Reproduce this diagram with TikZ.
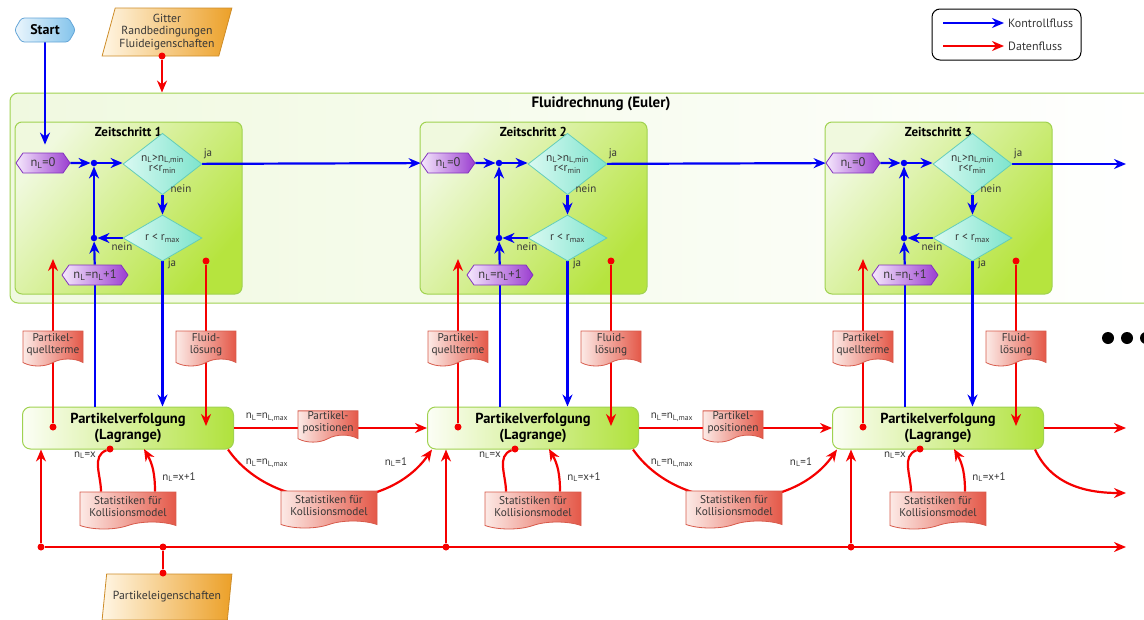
\documentclass[tikz,border=0pt]{standalone}
\usepackage{fontspec}
\setmainfont{PT Sans}
\usetikzlibrary{arrows.meta,shapes.geometric,shapes.symbols,calc}
\definecolor{cblue}{RGB}{0,0,245}
\definecolor{cred}{RGB}{245,0,0}
\definecolor{txt}{RGB}{55,55,55}
\definecolor{zsL}{RGB}{240,249,222}
\definecolor{zsR}{RGB}{182,228,62}
\definecolor{zsB}{RGB}{160,210,80}
\definecolor{bigL}{RGB}{240,249,224}
\definecolor{bigM}{RGB}{216,241,172}
\definecolor{pvL}{RGB}{252,254,246}
\definecolor{pvR}{RGB}{176,226,60}
\definecolor{docL}{RGB}{252,234,230}
\definecolor{docR}{RGB}{228,88,72}
\definecolor{docB}{RGB}{215,90,75}
\definecolor{hexL}{RGB}{245,232,252}
\definecolor{hexR}{RGB}{155,62,208}
\definecolor{hexB}{RGB}{130,50,190}
\definecolor{diaL}{RGB}{218,249,242}
\definecolor{diaR}{RGB}{125,228,205}
\definecolor{diaB}{RGB}{100,205,185}
\definecolor{parL}{RGB}{255,246,228}
\definecolor{parR}{RGB}{236,160,40}
\definecolor{parB}{RGB}{205,140,40}
\definecolor{stL}{RGB}{236,246,253}
\definecolor{stR}{RGB}{130,195,235}
\definecolor{stB}{RGB}{100,165,215}
\newcommand{\nLs}{n\textsubscript{L}}
\pgfdeclarelayer{bg}\pgfdeclarelayer{fg}
\pgfsetlayers{bg,main,fg}
\tikzset{
  tip/.style={-{Stealth[length=12pt,width=10pt]}},
  ctrlline/.style={draw=cblue, line width=2.2pt},
  ctrl/.style={ctrlline, tip},
  datline/.style={draw=cred, line width=2.2pt},
  dat/.style={datline, tip},
  lbl/.style={font=\fontsize{11}{12}\selectfont, text=txt, inner sep=1pt},
  dotb/.style={circle, fill=cblue, inner sep=0pt, minimum size=6.5pt},
  dotr/.style={circle, fill=cred, inner sep=0pt, minimum size=7pt},
  bigdot/.style={circle, fill=black, inner sep=0pt, minimum size=12pt},
  bigbox/.style={draw=zsB, line width=1pt, rounded corners=8pt, left color=bigL, middle color=bigM, right color=white, minimum width=1150pt, minimum height=210pt, inner sep=0pt},
  zsbox/.style={draw=zsB, line width=1pt, rounded corners=7pt, left color=zsL, right color=zsR, shading angle=50, minimum width=227pt, minimum height=172pt, inner sep=0pt},
  ztitle/.style={font=\bfseries\fontsize{13}{15}\selectfont, text=black},
  pvbox/.style={draw=zsB, line width=1pt, rounded corners=8pt, left color=pvL, right color=pvR, minimum width=211pt, minimum height=42pt, inner sep=0pt, align=center, font=\bfseries\fontsize{14.5}{16}\selectfont, text=black},
  hexn/.style={signal, signal to=west and east, signal pointer angle=110, draw=hexB, line width=0.8pt, left color=hexL, right color=hexR, minimum height=20pt, inner sep=1pt, text=txt, font=\fontsize{12.5}{13}\selectfont},
  dia/.style={diamond, draw=diaB, line width=0.8pt, left color=diaL, right color=diaR, minimum width=79pt, minimum height=46pt, inner sep=0pt, align=center, font=\fontsize{11.5}{11.5}\selectfont, text=txt},
  doc/.style={tape, tape bend top=none, tape bend height=7pt, draw=docB, line width=0.8pt, left color=docL, right color=docR, minimum width=60pt, minimum height=35pt, inner sep=1pt, align=center, font=\fontsize{11.3}{12}\selectfont, text=txt},
  para/.style={trapezium, trapezium left angle=72, trapezium right angle=108, trapezium stretches=true, draw=parB, line width=0.8pt, left color=parL, right color=parR, inner sep=1pt, align=center, font=\fontsize{11.7}{12.5}\selectfont, text=txt},
}
\begin{document}
\begin{tikzpicture}[x=1pt,y=1pt]
\useasboundingbox (0,0) rectangle (1144,-619);
\clip (0,0) rectangle (1144,-619);

% ---------------- background layer
\begin{pgfonlayer}{bg}
\node[bigbox] (euler) at (585,-198) {};
\foreach \k in {1,2,3} {
  \pgfmathsetmacro\dx{405*(\k-1)}
  \node[zsbox] (zs\k) at (\dx+128.5,-208) {};
  \node[pvbox] (pv\k) at (\dx+128,-428) {Partikelverfolgung\\(Lagrange)};
}
\end{pgfonlayer}

% ---------------- foreground nodes
\begin{pgfonlayer}{fg}
\node[font=\bfseries\fontsize{15}{17}\selectfont, text=black] (eulert) at (601,-104) {Fluidrechnung (Euler)};
\node[signal, signal to=west and east, signal pointer angle=120, rounded corners=3pt, draw=stB, line width=0.8pt, left color=stL, right color=stR, minimum width=61pt, minimum height=24pt, inner sep=1pt, font=\bfseries\fontsize{14}{15}\selectfont, text=black] (start) at (45,-30) {Start};
\node[para, minimum width=130pt, minimum height=48pt] (gitter) at (167,-32) {Gitter\\Randbedingungen\\Fluideigenschaften};
\node[dotr] (gd) at (162,-56) {};
\node[para, minimum width=130pt, minimum height=46pt] (peig) at (167,-597) {Partikeleigenschaften};
\node[dotr] (ped) at (163,-573) {};
\node[dotr] (bm) at (163,-547) {};
\foreach \k in {1,2,3} {
  \pgfmathsetmacro\dx{405*(\k-1)}
  \node[ztitle] (zst\k) at (\dx+128.5,-132) {Zeitschritt \k};
  \node[hexn, minimum width=54pt] (nz\k) at (\dx+43,-163) {\nLs=0};
  \node[dotb] (da\k) at (\dx+94,-163) {};
  \node[dia] (di\k) at (\dx+162.5,-164) {\nLs>n\textsubscript{L,min}\\[-1pt]r<r\textsubscript{min}};
  \node[dia] (dj\k) at (\dx+162.5,-238) {r < r\textsubscript{max}};
  \node[dotb] (db\k) at (\dx+94,-238) {};
  \node[hexn, minimum width=66pt] (ni\k) at (\dx+95,-275) {\nLs=\nLs+1};
  \node[lbl] (ja\k) at (\dx+208,-154) {ja};
  \node[lbl] (ne\k) at (\dx+181,-189) {nein};
  \node[lbl] (nf\k) at (\dx+122,-247) {nein};
  \node[lbl] (jb\k) at (\dx+172,-264) {ja};
  \node[doc] (pq\k) at (\dx+53,-345) {Partikel-\\quellterme};
  \node[doc] (fl\k) at (\dx+206,-345) {Fluid-\\lösung};
  \node[doc, minimum width=96pt, minimum height=37pt] (sk\k) at (\dx+128,-507) {Statistiken für\\Kollisionsmodel};
  \node[lbl] (lx\k) at (\dx+85,-455) {\nLs=x};
  \node[lbl] (ly\k) at (\dx+179,-477) {\nLs=x+1};
  \node[dotr] (pvd\k) at (\dx+53,-427) {};
  \node[dotr] (pvs\k) at (\dx+110,-449) {};
  \node[dotr] (fd\k) at (\dx+206,-261) {};
  \node[dotr] (bd\k) at (\dx+41,-547) {};
  \coordinate (pqt\k) at (\dx+53,-259);
  \coordinate (ft\k) at (\dx+206,-426);
  \coordinate (lt\k) at (\dx+144,-449);
}
\foreach \k in {1,2} {
  \pgfmathsetmacro\dx{405*(\k-1)}
  \node[doc, minimum height=31pt] (pp\k) at (\dx+328,-423) {Partikel-\\positionen};
  \node[doc, minimum width=96pt, minimum height=37pt] (sm\k) at (\dx+329,-506) {Statistiken für\\Kollisionsmodel};
  \node[lbl] (lm\k) at (\dx+267,-417) {\nLs=n\textsubscript{L,max}};
  \node[lbl] (ln\k) at (\dx+267,-463) {\nLs=n\textsubscript{L,max}};
  \node[lbl] (lo\k) at (\dx+396,-462) {\nLs=1};
}
\node[bigdot] (e1) at (1108,-338) {};
\node[bigdot] (e2) at (1127,-338) {};
\node[bigdot] (e3) at (1146,-338) {};
% legend
\node[draw=black, line width=1pt, rounded corners=8pt, minimum width=149pt, minimum height=51pt] (leg) at (1006.5,-34.5) {};
\coordinate (l1a) at (943,-23); \coordinate (l1b) at (1004,-23);
\coordinate (l2a) at (943,-46); \coordinate (l2b) at (1004,-46);
\node[lbl, anchor=west, font=\fontsize{12}{13}\selectfont] (lk) at (1007,-23) {Kontrollfluss};
\node[lbl, anchor=west, font=\fontsize{12}{13}\selectfont] (ld) at (1007,-46) {Datenfluss};
\coordinate (end1) at (1126,-164);
\coordinate (end2) at (1126,-428);
\coordinate (end3) at (1126,-493);
\coordinate (end4) at (1126,-547);
\end{pgfonlayer}

% ---------------- connectors
\draw[ctrl] (l1a) -- (l1b);
\draw[dat] (l2a) -- (l2b);
\draw[ctrl, shorten >=8pt] (start.south) -- (start.south |- nz1.north);
\draw[dat] (gd) -- (gd |- euler.north);
\foreach \k in {1,2,3} {
  \draw[ctrl] (nz\k) -- (da\k);
  \draw[ctrl] (da\k) -- (da\k -| di\k.west);
  \draw[ctrl] (di\k) -- (dj\k);
  \draw[ctrl] (dj\k) -- (db\k);
  \draw[ctrl] (db\k) -- (da\k);
  \draw[ctrl] (ni\k) -- (db\k);
  \draw[ctrlline] (ni\k.south) -- (ni\k.south |- pv\k.north);
  \draw[ctrl] (dj\k) -- (dj\k |- pv\k.north);
  \draw[dat] (pvd\k) -- (pqt\k);
  \draw[dat] (fd\k) -- (ft\k);
  \draw[datline] (pvs\k) to[out=200,in=90] ([xshift=-27pt]sk\k.north);
  \draw[dat] ([xshift=27pt]sk\k.north) to[out=90,in=-60] (lt\k);
  \draw[dat] (bd\k) -- (bd\k |- pv\k.south);
}
\draw[ctrl] (di1) -- (nz2);
\draw[ctrl] (di2) -- (nz3);
\draw[ctrl] (di3.east) -- (end1);
\draw[dat] (pv1) -- (pv2);
\draw[dat] (pv2) -- (pv3);
\draw[dat] (pv3.east |- end2) -- (end2);
\draw[dat] ([xshift=-6pt]pv1.south east) to[out=-55,in=-125] ([xshift=5pt]pv2.south west);
\draw[dat] ([xshift=-6pt]pv2.south east) to[out=-55,in=-125] ([xshift=5pt]pv3.south west);
\draw[dat] ([xshift=-9pt]pv3.south east) to[out=-65,in=180] (end3);
\draw[dat] (bd1) -- (end4);
\draw[datline] (ped) -- (bm);
\end{tikzpicture}
\end{document}
